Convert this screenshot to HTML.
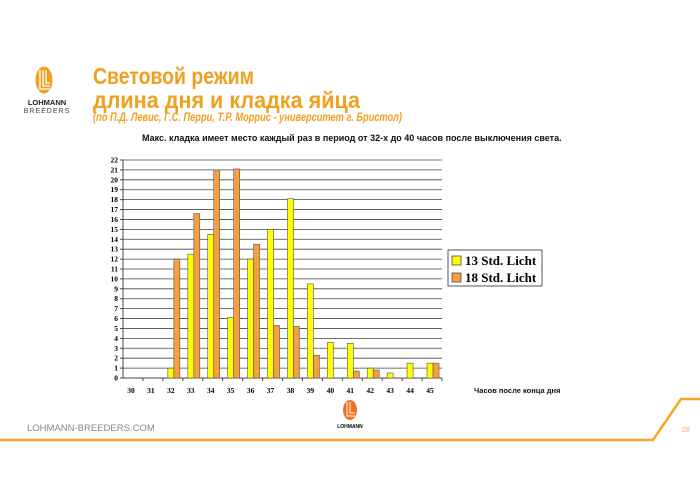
<!DOCTYPE html>
<html><head><meta charset="utf-8"><style>
body{margin:0;width:700px;height:495px;background:#fff;overflow:hidden;position:relative;font-family:"Liberation Sans","DejaVu Sans",sans-serif}
</style></head><body>
<svg width="700" height="495" style="position:absolute;left:0;top:0">
<ellipse cx="44" cy="80" rx="8.5" ry="13.5" fill="#f0a020"/>
<path d="M40 70 V89 H50 M43 70 V86 H50 M46 70 V83 H50" stroke="#fff" stroke-width="1.3" fill="none"/>
<text x="47" y="105" font-size="7.5" font-weight="bold" text-anchor="middle" fill="#222">LOHMANN</text>
<text x="47" y="113" font-size="7" text-anchor="middle" fill="#444" letter-spacing="1">BREEDERS</text>
<text x="93" y="84" font-size="23" font-weight="bold" fill="#f0a020" textLength="161" lengthAdjust="spacingAndGlyphs">Световой режим</text>
<text x="93" y="108" font-size="23" font-weight="bold" fill="#f0a020" textLength="267" lengthAdjust="spacingAndGlyphs">длина дня и кладка яйца</text>
<text x="93" y="121" font-size="11.5" font-weight="bold" font-style="italic" fill="#f0a020" textLength="309" lengthAdjust="spacingAndGlyphs">(по П.Д. Левис, Г.С. Перри, Т.Р. Моррис - университет г. Бристол)</text>
<text x="142" y="141" font-size="9" font-weight="bold" fill="#111">Макс. кладка имеет место каждый раз  в период от 32-х до 40 часов после выключения света.</text>
<g id="chart"></g>
<rect x="448" y="250" width="94" height="36" fill="#fff" stroke="#555"/>
<rect x="452" y="256" width="9" height="9" fill="#ffff00" stroke="#333" stroke-width="0.7"/>
<rect x="452" y="273" width="9" height="9" fill="#f5a040" stroke="#333" stroke-width="0.7"/>
<text x="465" y="265" font-family="Liberation Serif,serif" font-size="13" font-weight="bold">13 Std. Licht</text>
<text x="465" y="282" font-family="Liberation Serif,serif" font-size="13" font-weight="bold">18 Std. Licht</text>
<text x="474" y="393" font-size="7.5" font-weight="bold" fill="#111">Часов после конца дня</text>
<text x="27" y="431" font-size="9.5" fill="#888">LOHMANN-BREEDERS.COM</text>
<ellipse cx="350" cy="410" rx="7" ry="10" fill="#f07020"/>
<path d="M347 402 V416 H355 M350 402 V413 H355" stroke="#fff" stroke-width="1" fill="none"/>
<text x="350" y="428" font-size="5" font-weight="bold" text-anchor="middle">LOHMANN</text>
<text x="682" y="432" font-size="7" fill="#e8b060">28</text>
<path d="M0 440 H653 L681 399 H700" stroke="#f5a623" stroke-width="2.5" fill="none"/>
</svg>
<script>
var g=document.getElementById('chart'),s='';
var x0=123,x1=442,y0=378,u=(378-160)/22,cw=(x1-x0)/16;
for(var i=0;i<=22;i++){var y=y0-i*u;s+='<line x1="'+x0+'" x2="'+x1+'" y1="'+y+'" y2="'+y+'" stroke="#444" stroke-width="'+(i==0?1:0.8)+'"/>';
s+='<line x1="'+(x0-3)+'" x2="'+x0+'" y1="'+y+'" y2="'+y+'" stroke="#444"/>';
s+='<text x="'+(x0-5)+'" y="'+(y+2.5)+'" font-family="Liberation Serif,serif" font-size="7.5" font-weight="bold" text-anchor="end">'+i+'</text>';}
s+='<line x1="'+x0+'" x2="'+x0+'" y1="160" y2="378" stroke="#444"/>';
var Y=[0,0,1,12.5,14.5,6.1,12,15,18.1,9.5,3.6,3.5,1,0.5,1.5,1.5];
var O=[0,0,12,16.6,21,21.1,13.5,5.3,5.2,2.3,0,0.7,0.8,0,0,1.5];
for(var k=0;k<16;k++){var c=x0+cw*(k+0.5)+1;
s+='<line x1="'+(x0+cw*(k+1))+'" x2="'+(x0+cw*(k+1))+'" y1="378" y2="381" stroke="#444"/>';
s+='<text x="'+(c-3)+'" y="393" font-family="Liberation Serif,serif" font-size="7.5" font-weight="bold" text-anchor="middle">'+(30+k)+'</text>';
if(Y[k])s+='<rect x="'+(c-6)+'" y="'+(y0-Y[k]*u)+'" width="6" height="'+(Y[k]*u)+'" fill="#ffff00" stroke="#555" stroke-width="0.6"/>';
if(O[k])s+='<rect x="'+c+'" y="'+(y0-O[k]*u)+'" width="6" height="'+(O[k]*u)+'" fill="#f5a040" stroke="#555" stroke-width="0.6"/>';}
g.innerHTML=s;
</script>
</body></html>
